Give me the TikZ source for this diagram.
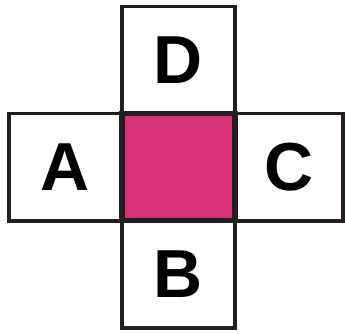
\documentclass[tikz,border=0pt]{standalone}
\usepackage{fontspec}
\setmainfont{Liberation Sans}
\usepackage{xcolor}
\usepackage{tikz}
\usetikzlibrary{positioning}

\definecolor{cellpink}{RGB}{217,50,122}
\definecolor{cellline}{RGB}{35,31,32}

\begin{document}
\begin{tikzpicture}[
		x=0.03cm, y=0.03cm,
		node distance=0pt and 0pt,
		cell/.style={rectangle, draw=cellline, line width=3.4pt, fill=white, outer sep=0pt, inner sep=0pt, minimum width=3.39cm, minimum height=3.21cm, font=\fontsize{58}{58}\selectfont\bfseries},
		middle/.style={cell, fill=cellpink, line width=4.4pt}
		]
		
		\useasboundingbox (0,0) rectangle (345,-333);
		
		% centre cell and its four neighbours
		\node[middle] (mid) at (178.5,-167) {};
		\node[cell, above=of mid] (top) {D};
		\node[cell, left=of mid] (left) {A};
		\node[cell, right=of mid, minimum width=3.24cm] (right) {C};
		\node[cell, below=of mid] (bottom) {B};
		
		% redraw the centre on top of the shared borders
		\node[middle] at (mid) {};
		
	\end{tikzpicture}
\end{document}
